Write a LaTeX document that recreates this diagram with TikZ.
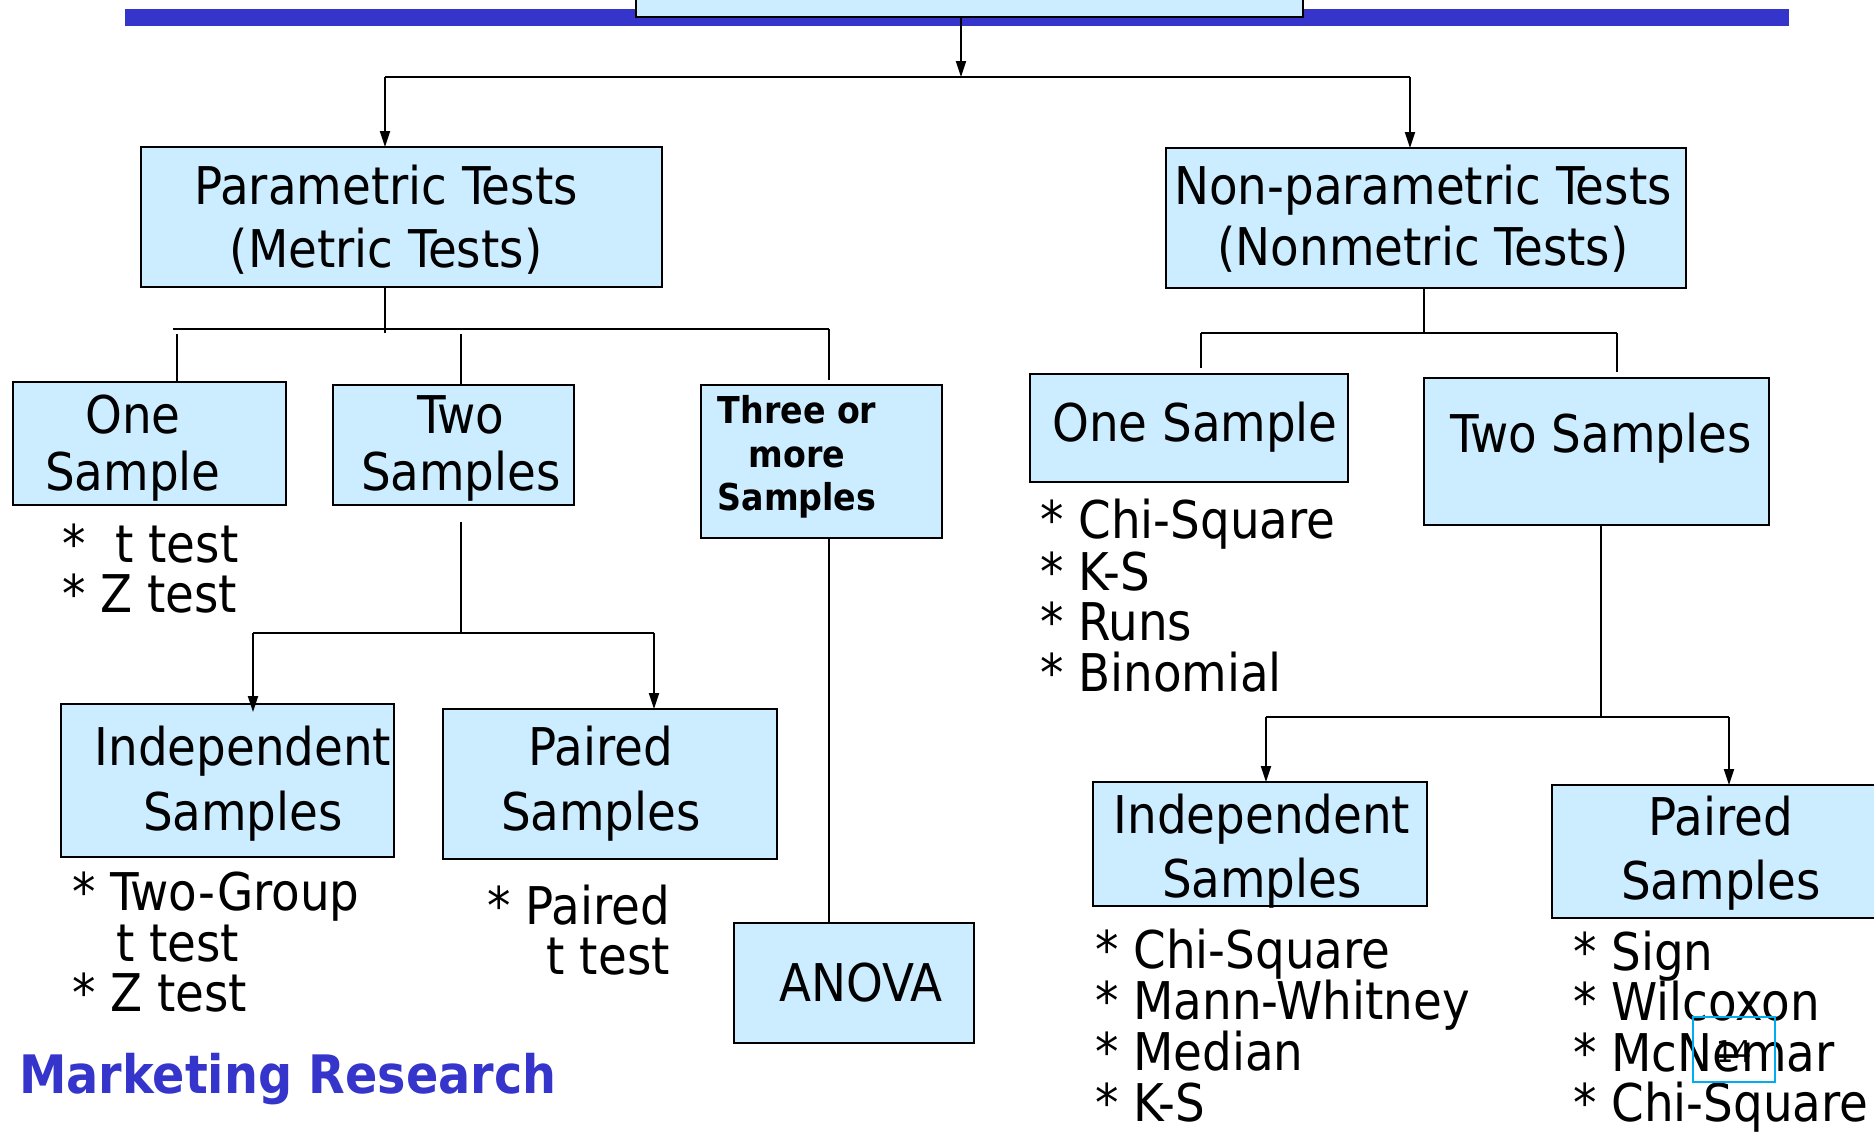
\documentclass[tikz,border=0pt]{standalone}
\usepackage{fontspec}
\setmainfont{DejaVu Sans Condensed}
\usetikzlibrary{arrows.meta}
\definecolor{boxfill}{HTML}{CCECFF}
\definecolor{barblue}{HTML}{3535CC}
\begin{document}
\begin{tikzpicture}[x=1pt,y=-1pt,
  box/.style={draw=black,line width=2pt,fill=boxfill,inner sep=0pt,outer sep=0pt},
  conn/.style={line width=2pt},
  arr/.style={line width=2pt,-{Triangle[length=16pt,width=10pt]}},
  txt/.style={inner sep=0pt,font=\fontsize{52}{63}\selectfont},
  btxt/.style={inner sep=0pt,font=\fontsize{37}{44}\selectfont\bfseries},
]
\useasboundingbox[fill=white] (0,0) rectangle (1874,1133);
% title bar
\fill[barblue] (125,9) rectangle (1789,26);
\node[box,minimum width=667pt,minimum height=90pt] (top) at (969.5,-28) {};
% level 1 boxes
\node[box,minimum width=521pt,minimum height=140pt] (param) at (401.5,217) {};
\node[box,minimum width=520pt,minimum height=140pt] (nonparam) at (1426,218) {};
% parametric branch
\node[box,minimum width=273pt,minimum height=123pt] (os1) at (149.5,443.5) {};
\node[box,minimum width=241pt,minimum height=120pt] (ts1) at (453.5,445) {};
\node[box,minimum width=241pt,minimum height=153pt] (three) at (821.5,461.5) {};
\node[box,minimum width=333pt,minimum height=153pt] (ind1) at (227.5,780.5) {};
\node[box,minimum width=334pt,minimum height=150pt] (pair1) at (610,784) {};
\node[box,minimum width=240pt,minimum height=120pt] (anova) at (854,983) {};
% nonparametric branch
\node[box,minimum width=318pt,minimum height=108pt] (os2) at (1189,428) {};
\node[box,minimum width=345pt,minimum height=147pt] (ts2) at (1596.5,451.5) {};
\node[box,minimum width=334pt,minimum height=124pt] (ind2) at (1260,844) {};
\node[box,minimum width=348pt,minimum height=133pt] (pair2) at (1726,851.5) {};

% box texts
\node[txt,anchor=base] (tp1) at (386,204) {Parametric Tests};
\node[txt,anchor=base] (tp2) at (386,267) {(Metric Tests)};
\node[txt,anchor=base] (tn1) at (1423,204) {Non-parametric Tests};
\node[txt,anchor=base] (tn2) at (1423,265) {(Nonmetric Tests)};
\node[txt,anchor=base] (tos1a) at (133,433) {One};
\node[txt,anchor=base] (tos1b) at (133,490) {Sample};
\node[txt,anchor=base] (tts1a) at (461,433) {Two};
\node[txt,anchor=base] (tts1b) at (461,490) {Samples};
\node[btxt,anchor=base] (tth1) at (797,423) {Three or};
\node[btxt,anchor=base] (tth2) at (797,467) {more};
\node[btxt,anchor=base] (tth3) at (797,510) {Samples};
\node[txt,anchor=base] (tin1a) at (243,765) {Independent};
\node[txt,anchor=base] (tin1b) at (243,830) {Samples};
\node[txt,anchor=base] (tpa1a) at (601,765) {Paired};
\node[txt,anchor=base] (tpa1b) at (601,830) {Samples};
\node[txt,anchor=base] (tan) at (861,1001) {ANOVA};
\node[txt,anchor=base] (tos2) at (1195,441) {One Sample};
\node[txt,anchor=base] (tts2) at (1601,452) {Two Samples};
\node[txt,anchor=base] (tin2a) at (1262,833) {Independent};
\node[txt,anchor=base] (tin2b) at (1262,897) {Samples};
\node[txt,anchor=base] (tpa2a) at (1721,835) {Paired};
\node[txt,anchor=base] (tpa2b) at (1721,899) {Samples};

% lists
\node[txt,anchor=base west] (l1a) at (62,562) {*\ \ t test};
\node[txt,anchor=base west] (l1b) at (62,612) {* Z test};
\node[txt,anchor=base west] (l2a) at (72,910) {* Two-Group};
\node[txt,anchor=base west] (l2b) at (116,961) {t test};
\node[txt,anchor=base west] (l2c) at (72,1011) {* Z test};
\node[txt,anchor=base east] (l3a) at (670,924) {* Paired};
\node[txt,anchor=base east] (l3b) at (670,974) {t test};
\node[txt,anchor=base west] (l4a) at (1040,538) {* Chi-Square};
\node[txt,anchor=base west] (l4b) at (1040,590) {* K-S};
\node[txt,anchor=base west] (l4c) at (1040,640) {* Runs};
\node[txt,anchor=base west] (l4d) at (1040,691) {* Binomial};
\node[txt,anchor=base west] (l5a) at (1095,968) {* Chi-Square};
\node[txt,anchor=base west] (l5b) at (1095,1019) {* Mann-Whitney};
\node[txt,anchor=base west] (l5c) at (1095,1070) {* Median};
\node[txt,anchor=base west] (l5d) at (1095,1121) {* K-S};
\node[txt,anchor=base west] (l6a) at (1573,970) {* Sign};
\node[txt,anchor=base west] (l6b) at (1573,1020) {* Wilcoxon};
\node[txt,anchor=base west] (l6c) at (1573,1071) {* McNemar};
\node[txt,anchor=base west] (l6d) at (1573,1121) {* Chi-Square};

% footer
\node[inner sep=0pt,anchor=base west,text=barblue,font=\fontsize{53}{60}\selectfont\bfseries] (mr) at (19,1093) {Marketing Research};
\node[draw=cyan,line width=1.2pt,minimum width=82pt,minimum height=65pt,inner sep=0pt] (pg) at (1734,1049.5) {};
\node[inner sep=0pt,font=\fontsize{30}{36}\selectfont] (pgn) at (1734,1052) {14};

% connectors
\coordinate (j0) at (961,77);
\coordinate (jL) at (385,77);
\coordinate (jR) at (1410,77);
\draw[arr] (top.south -| j0) -- (j0);
\draw[conn] (jL) -- (jR);
\draw[arr] (jL) -- (jL |- param.north);
\draw[arr] (jR) -- (jR |- nonparam.north);

\coordinate (p0) at (385,333);
\coordinate (pL) at (173,329);
\coordinate (pR) at (829,329);
\coordinate (pa) at (177,334);
\coordinate (pb) at (461,334);
\draw[conn] (param.south -| p0) -- (p0);
\draw[conn] (pL) -- (pR);
\draw[conn] (pa) -- (pa |- os1.north);
\draw[conn] (pb) -- (pb |- ts1.north);
\draw[conn] (pR) -- ([yshift=5pt]pR |- three.north);

\coordinate (q0) at (461,522);
\coordinate (q1) at (461,633);
\coordinate (qL) at (253,633);
\coordinate (qR) at (654,633);
\draw[conn] (q0) -- (q1);
\draw[conn] (qL) -- (qR);
\draw[arr] (qL) -- ([yshift=-8pt]qL |- ind1.north);
\draw[arr] (qR) -- (qR |- pair1.north);

\draw[conn] (three.south -| pR) -- (anova.north -| pR);

\coordinate (n0) at (1424,333);
\coordinate (nL) at (1201,333);
\coordinate (nR) at (1617,333);
\draw[conn] (nonparam.south -| n0) -- (n0);
\draw[conn] (nL) -- (nR);
\draw[conn] (nL) -- ([yshift=6pt]nL |- os2.north);
\draw[conn] (nR) -- ([yshift=6pt]nR |- ts2.north);

\coordinate (m1) at (1601,717);
\coordinate (mL) at (1266,717);
\coordinate (mR) at (1729,717);
\draw[conn] (ts2.south -| m1) -- (m1);
\draw[conn] (mL) -- (mR);
\draw[arr] (mL) -- (mL |- ind2.north);
\draw[arr] (mR) -- (mR |- pair2.north);
\end{tikzpicture}
\end{document}
